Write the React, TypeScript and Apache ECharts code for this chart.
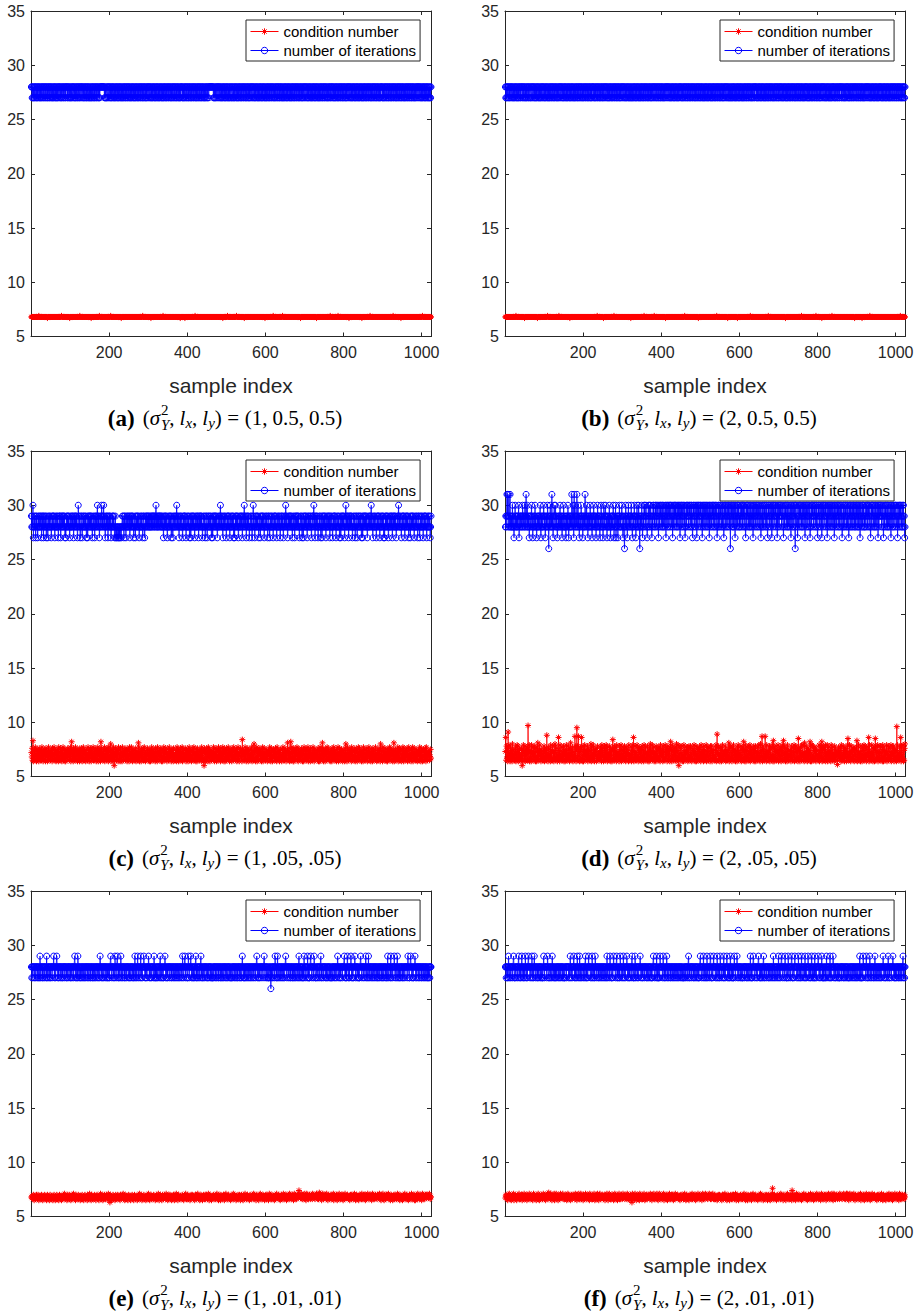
import React, { useEffect, useRef } from 'react';
import * as echarts from 'echarts';

// ---------------- data ----------------
// sample index runs 1..1024 in every panel
// iterations: one char per sample, value = 20 + base36(char)  ('7'=27, '8'=28, '9'=29, 'a'=30, 'b'=31, '6'=26)
// condition number: one char per sample, value = 6.0 + 0.1 * index in ALPHA
const ALPHA = '0123456789abcdefghijklmnopqrstuvwxyzABCDEFGHIJ';

const iterA = [
  '88787878 78878787 87887878 78788787 88787887 87878878 78878787 87887878',
  '78787887 88787878 87878878 78887878 87878787 88788787 87878878 78878788',
  '87887878 78878787 88787878 78787887 87878878 78878787 88888888 88878787',
  '78878878 87878787 88787878 78878787 87887878 78787887 87878878 78878787',
  '87887878 78787887 87878878 78878787 88787878 78878878 87878787 88787878',
  '78878787 87887878 78787887 87878878 78878787 87887878 87878788 78787878',
  '88787878 78878788 78787887 87878878 78878787 87887878 87878788 78787878',
  '87878878 88888888 88787878 78878878 87887878 78788787 87878878 78787887',
  '78878787 87887878 78787887 87878878 78878787 88787878 78878878 87878787',
  '88787878 78878787 87887878 78787887 87878878 78878787 87887878 87878788',
  '78787878 78878787 87887878 78787887 87878878 78878787 88787878 78878878',
  '87878787 88787878 78878787 87887878 78787887 87878878 78878787 87887878',
  '87887878 78787887 87878878 78878787 88787878 78878878 87878787 88787878',
  '78878787 87887878 78787887 87878878 78878787 87887878 87878788 78787878',
  '88787878 78878788 78787887 87878878 78878787 87887878 87878788 78787878',
  '87878878 78878787 88787878 78878878 87887878 78788787 87878878 78787878',
];
const iterB = [
  '87878788 78787887 88787878 78878787 87878878 78887878 87878787 88787887',
  '78878878 87878787 87887878 78787887 88787878 78878787 87878878 78878787',
  '88787878 78878878 87878787 88787878 78878787 87887878 78787887 87878878',
  '78878787 87887878 87878788 78787878 88787878 78878788 78787887 87878878',
  '87887878 78787887 87878878 78878787 88787878 78878878 87878787 88787878',
  '78787878 78878787 87887878 78787887 87878878 78878787 88787878 78878878',
  '87878878 78878787 88787878 78878878 87887878 78788787 87878878 78787887',
  '88787878 78878788 78787887 87878878 78878787 87887878 87878788 78787878',
  '78878787 87887878 78787887 87878878 78878787 88787878 78878878 87878787',
  '87878787 88787878 78878787 87887878 78787887 87878878 78878787 87887878',
  '88787878 78878787 87887878 78787887 87878878 78878787 87887878 87878788',
  '78878787 87887878 78787887 87878878 78878787 87887878 87878788 78787878',
  '87887878 78787887 87878878 78878787 88787878 78878878 87878787 88787878',
  '78787887 88787878 87878878 78887878 87878787 88788787 87878878 78878788',
  '87878878 78878787 88787878 78878878 87887878 78788787 87878878 78787887',
  '88787878 78878787 87887878 78788787 88787887 87878878 78878787 87887878',
];
const iterC = [
  '9898a789 89879898 78989889 89789897 98898978 98789898 89878989 98987898',
  '89898789 98978989 89898978 78989898 98789889 89897898 98989878 a9898789',
  '98789898 89898789 78989898 98987898 89789898 9a898978 8989a898 9a898789',
  '89897898 98987889 89898789 78788787 87878878 89898798 98789898 89897898',
  '98989878 89789898 98987898 89898789 98789898 98989898 89898989 9898989a',
  '89898989 98989898 89789898 98987898 89898978 98789898 8989a898 98789898',
  '89878989 98987898 89898789 78989898 98789889 89897898 98989878 89898789',
  '98789898 89898789 78989898 98987898 8989a898 98789898 89878989 98987898',
  '89898978 78989898 98789889 89897898 9a898978 98989878 89898789 a8987898',
  '98989878 89789898 98987898 89898789 98789898 89878989 98987898 89898789',
  '89898789 898a9898 78989898 98987898 89789898 98989878 89898789 78989898',
  '98789898 89898789 989a8978 98989878 89898789 78989898 98789889 89897898',
  '89878989 98987898 89898789 78989898 98789a89 89897898 98989878 89898789',
  '98789898 89898789 78989898 98987898 898989a8 98789898 89878989 98987898',
  '89898978 78989898 98789889 89897898 98989878 8989a898 89878989 98987898',
  '98989878 89789898 98987898 89898789 98789898 89878989 98987898 89898789',
];
const iterD = [
  '8989b9b8 9b89b898 98a89878 9a898989 89a78989 9898a989 98a89b98 a8989789',
  '989a8978 8989a898 78989898 9a879898 89a98978 9898a986 989a898b 89789a98',
  'a9898789 8989a898 97898a98 89879898 a9789898 98b98a97 b8a9898b 98a89789',
  '89a98978 9898b989 a8978989 8a989879 89a98989 7898a989 98798a98 9878a989',
  'a9897898 98a89789 8989a978 98a78989 7989a898 89a98798 8698a989 789a8989',
  '98a98789 89a98978 9a898a98 69898a97 898a9a89 a98789a8 9a89a987 98a9a898',
  'a9a89a98 7a98a9a8 9a8a98a9 89a7a98a 98a9a89a a89a798a 9a8a9a89 8a9a89a7',
  '9a8a9a89 a98a789a 8a9a98a9 a89a8a97 8a9a89a9 8a79a8a9 a98a9a89 7a8a98a9',
  'a89a8a98 9a7a89a9 8a9a8a98 a9a89a78 9a8a98a9 a89a8a97 8a9a8a98 9a8a9a89',
  '6a9a8a98 a89a7a98 9a8a9a89 8a98a9a8 a9a89a87 9a8a9a89 a89a8a98 9a7a89a9',
  '8a9a8a98 a9a89a78 9a8a98a9 a89a8a97 8a9a89a9 8a79a8a9 a98a9a89 7a8a98a9',
  'a9a89a98 7a98a9a8 9a8a98a9 89a7a98a 98a9a86a a89a798a 9a8a9a89 8a9a89a7',
  '9a8a9a89 a98a789a 8a9a98a9 a89a8a97 8a9a89a9 8a79a8a9 a98a9a89 7a8a98a9',
  'a89a8a98 9a7a89a9 8a9a8a98 a9a89a78 9a8a98a9 a89a8a97 8a9a8a98 9a8a9a89',
  '8a9a8a98 a89a7a98 9a8a9a89 8a98a9a8 a9a89a87 9a8a9a89 a89a8a98 9a7a89a9',
  'a9a89a98 7a98a9a8 9a8a98a9 89a7a98a 98a9a89a a89a798a 9a8a9a89 8a9a8978',
];
const iterE = [
  '87887888 78878887 88788798 78887878 88788879 78878887 87888788 89878878',
  '89887878 88788878 78887888 87878878 88878788 78887889 87887879 88788787',
  '88788788 78878887 88788878 78887878 87887888 78878878 98878878 87888788',
  '87878878 78898878 88788798 87889878 78878987 88788878 78887888 87878878',
  '88788787 89878878 98788878 97887888 98878788 78889878 87887888 87987878',
  '78878887 88978878 87788898 78878788 88788878 78887887 88788788 78878887',
  '88798878 89878887 78987888 98788787 88788978 78878887 88978878 78887888',
  '87878878 88788787 78878887 88788878 78887878 87887888 78878878 88788787',
  '78878887 88788878 78887887 88789887 87878878 88788788 78878887 88788878',
  '89878878 78887888 87889878 88788787 78878687 88788878 98878798 78887887',
  '88788788 78898878 88788878 78887878 87887888 78878978 88788787 87988788',
  '88798787 78898878 88789887 78878878 88788978 78887888 87878878 88788787',
  '78878887 88788878 98878878 78887888 89878787 89887878 88987887 78889878',
  '88788787 78898878 88788878 98788789 78878887 88788788 78887878 87887888',
  '78878878 88788787 98878887 97888788 89878878 89788787 88788878 78887888',
  '88789887 78898878 87788898 78878887 88788878 78887887 88788787 87887888',
];
const iterF = [
  '88788787 98878878 88788987 78878887 88978878 78988787 88798878 78898887',
  '88789878 78988788 87878878 88788787 78987888 88789887 78878878 98788787',
  '87887888 78878878 88788787 78887888 88788798 78878889 87878878 98788798',
  '78878887 88788978 78878988 88788798 78878798 88788878 78887887 88788788',
  '78879878 88789887 78878988 88788978 78878798 88788798 78878889 87887878',
  '88789887 78879878 88788788 89878878 78887888 87878878 88788787 78898878',
  '88798787 78879888 88789878 78878987 88788878 78887887 88788788 78878887',
  '88788787 78878878 88788978 78887888 87878878 88788787 78898878 88798788',
  '78879878 88788987 78878988 88788798 78878798 88788879 78878889 87887878',
  '98788787 78988788 89878878 88788787 78887888 87878878 88798787 78898878',
  '88788788 98878787 88788978 78887888 87878878 88788798 78878887 88798788',
  '78898878 88789887 78879878 88788987 78878988 88788798 78878798 88788879',
  '78878889 87887878 98788787 97887888 89878878 88978787 78878798 88788879',
  '78878889 87887878 88788787 78887888 87878878 88788787 78878887 88788788',
  '78878878 88798787 78879888 88789878 78878987 88788878 78987887 88788788',
  '78878889 87887878 88789878 78887888 98878787 88788878 78887887 88978878',
];

const condA = [
  '88888888 88888888 88898888 88888888 88888888 87888888 88888888 88888888',
  '88888888 88888988 88888888 88888888 88788888 88888888 88888888 88889888',
  '88888888 88888888 88888888 87888888 88888888 88888898 88888888 88888888',
  '88888888 88898888 88888888 88888888 88888878 88888888 88888888 88888888',
  '88888888 88888888 88888888 88888988 88888888 88888888 88788888 88888888',
  '88888888 88888888 89888888 88888888 88888888 88888888 88888888 88888788',
  '88888888 87888888 88888888 88888888 88898888 88888888 88888888 88888888',
  '88888888 88888888 88888888 88888888 88888888 88788888 88888898 88888888',
  '88888888 88888988 88888888 88888888 87888888 88888888 88888888 88888888',
  '88888888 88888888 88888878 88888888 88888888 88898888 88888888 88888888',
  '88898888 88888888 88888888 88888888 88888888 88888888 87888888 88888888',
  '88888888 88888888 88888888 88788888 88888888 88888888 88888888 88888988',
  '88888888 88888888 89888888 88888888 88888888 88888788 88888888 88888888',
  '88888888 88888878 88888888 88888888 88898888 88888888 88888888 88888888',
  '88888888 88888888 88888888 88888898 88888888 88888888 88788888 88888888',
  '88888888 88888888 88888888 88888888 88888888 89888888 88888888 88888888',
];
const condB = [
  '88888888 88888888 88888888 88898888 88888888 88888888 87888888 88888888',
  '88888888 88888888 88788888 88888888 88888888 88889888 88888888 88888888',
  '88888888 89888888 88888888 88888888 88888788 88888888 88888888 88888888',
  '88888888 88888888 88888888 88888888 88888888 88898888 88888888 88878888',
  '88888888 88888888 88888898 88888888 88888888 88888888 88888888 88888888',
  '87888888 88888888 88888888 88888888 88898888 88888888 88888888 88888988',
  '88888888 88888888 88888888 88788888 88888888 88888888 88888888 88888888',
  '88888888 88898888 88888888 88888888 88888888 88888878 88888888 88888888',
  '88888888 88888888 88888888 88888988 88888888 88888888 88888888 87888888',
  '88888888 88888888 88788888 88888888 88888888 88888888 88898888 88888888',
  '88888888 88888888 88888888 88888888 89888888 88888888 88888888 88888888',
  '88888888 88888788 88888888 88888888 88888888 88888888 88888898 88888888',
  '88888888 88888888 88888888 88898888 88888888 88788888 88888888 88888888',
  '88889888 88888888 88888888 88888888 88888888 88888888 88888888 88888878',
  '88888888 88888888 87888888 88888888 88888988 88888888 88888888 88888888',
  '88888888 88888888 88888888 88888888 88888888 88888888 88898888 88888888',
];
const condC = [
  'c8g5n4a7 e6h9b4f5 a7d4g8c5 9e5h7b4d 6f9c4g8a b4e7h5c9 d5a8f4g6 c9h6b5e4',
  'a5f8c4h7 6d9g5b4e 8h5a7f4c 4e9b6g8d f5c7h4am b6e4g8d5 7h5c9f4a e6b4g7d5',
  '9g4d6h5b e7a4f9c5 5h8b4e7g c4f6a9h5 7d5g8b4e a6h4c9f5 d4m6g8b5 8e5h4a7f',
  'b5g7d4h8 6e9k4c7f a4h70c5g 8d5f9b4h e6a4g7c5 4h8d5b9f c5g6a4e8 7f4h9d5b',
  'h6c4f8a5 9e5g4b7d 5al7h4c9 d4f6b8g5 8h5e4a7c 6g9c5f4b e4a7h5d8 b5f9c4g6',
  '7d4h6b9e a5g8c4f7 4e9h5b6d g7c4a8f5 5h6d9b4e c8f4g7a5 9b5e4h6c f4a8d5g7',
  'd5h4b8f6 6c9g4e7a b4f7h5d9 8e4a6g5c h5c8b4f7 4g6d9a5e a7f4h8c5 e50g6b4d',
  '5g8c4h7b f4a9e5d6 c7h5b4g8 9d4f6a5h 6e8c4g7b a5h9d4f6 4c7g5e8a h6b4f9d5',
  'c4g7a5h8 8e5d9f4b 5h6b4c9g f7a4od5e 9c5h8b4f d6g4e7a5 b8f5h4c6 a5kd7g4e',
  '6h4e8b5g d9a5f4c7 h4c7g6b5 5f8d4a9e b6h5c4g8 e4a9f7d5 8g5b4h6c c7e4a8f5',
  'a4f7h5c8 5g9d4b6e l6c8g4a5 mb5h7d4f 4e8c6g9b h5a4f8d6 7c5g9b4e d4h6a8f5',
  'f5b8h4d7 9e4g6a5c 5h7c4f8b c6a9e5g4 8d4h5b7f al6g4c8e 4f9d5h6b g7c5a4e8',
  'b4g6d8h5 e7a5c4f9 6h4b9g5d d5f8a4e7 9c4g5k6b 4h8e5a7f c6f4h9d5 a8e5g4c7',
  '7f4c8h6a g5d9b4e7 a4h6f5c8 5e8g4b9d h7c5a4f6 d4g8e5b7 6h9c4a5f b5e7g4k8',
  'e6a4h8c5 9g5d7b4f 4c8f6h5a g5b9e4d7 l4a8f5c6 c7h4d9g5 5f6b4e8h a4g7c5d9',
  'd8g4b6h5 5e9a4f7c h4c6g8b5 7f5d4a9e b5h7c4g6 e4a8f5d9 6g4h7b5c c9e5a6f7',
];
const condD = [
  'dq5i8g4v 6j9c4h7b e4k7b9f5 a5h4d8j6 i4c7f5a9 5g80e4jb c7i4d9f5 h5Bc6j4e',
  '7e4j6b9h c5i8d4g7 4h7l5c9e j6a4f8b5 8d5i4g7c e5s7a4h9 b8f4j6d5 5i7c4e8k',
  'i5c8g4a7 q6e4j9b5 6h5d8i4c f4a7j5e9 5i8b4g6l c9f5h4a7 d5r8i4gz 7i5r9d4f',
  'h5dq7a4i 4f9j5c8e b6i4g7d5 9e5k4h8a 5j7c4f9d g4a8i5b6 7d5h9e4j c8g4a6i5',
  'e5j7b4h9 6c8i5f4d a4go7e5i 5h9c4j8b d6a4i7f5 j4e8b5g9 7i5d4h6c f9b4j5a7',
  'b6h4e9j5 q4d7i5c8 5j8a4g6e h5c9f4i7 8e4j6b5h c7a5i4d9 4g8k5e6b j5d7h4a8',
  'd4i6b8g5 7h5e4j9c a8f4i5d6 5j7c9g4e i5b8f4hm 6e4j7a5g c9h5d4k7 e5j80b6i',
  'g5c8i4a7 4j6e9b5h d7h4f5i8 a5i7c4g6 6e9j5d4b i4b7g5f9 5h8d4j6a c7f4i5e9',
  'a6j4d8h5 5g9b4i7e i4c6f8a5 7e5j4htb c5i8a4g6 h4e7j5b9 6d9i4f5c e5a8l4h6',
  '5i8c4g6e j5a9f4d7 b4h6j5e8 9c5i4a7g f6m5d4j8 4e7h9b5i d5j4g8c6 a8f5i4e7',
  'i4d7b5h9 6j5c4k8e 8r4i6f5b 5r9d4j7a c7e5i4g6 h5a9j4n7 4g8d6i5c e6j4b9f5',
  '7h4e9j5c n5i8b4g6 d4j6f5a9 a8e4i7c5 5g9j4d6h i5c8f4p7 6e4h9b5j c8j5a4l7',
  'b5i7d4g8 e6c9m4j5 4j8a5h7e h5d4f9b6 9a5j4e7i c8m4g5i6 5f9j4b7d j4c6h8a5',
  'e4j7b5h9 7c4i6f8a c51d9h7e a6h4j5c8 5i9e4g7b g4d8jp5a 8j5c4i6e d7a5h4f9',
  '9e5hn4c7 j5b8d4i6 a4g7e5j9 5i6c4h8b f8q4j5d7 c5j9a4g6 h4ep5i7c 6j4d8b5i',
  'i5c8f4j6 4h7e9b5d j4a6i5g8 7d5j4c9h b6i4f8e5 e4A7j5c9 5h8cq4i6 a7j4e5gk',
];
const condE = [
  '87986a75 98769a86 7a859768 96a87598 68a97865 9a768958 a7869785 69a87596',
  '8a769857 a8967598 67a98b68 97856a97 8a698576 9a78b968 75a89678 a6978596',
  '98a76859 7a869785 a9678b96 85a97687 69a87598 a7968579 8b697a85 967a8968',
  'a8697b68 93a78597 8a697856 a9867a98 7695a878 9a8b6795 a6879685 7a968957',
  '89a76958 a7869785 96a87b68 7a958697 a8697586 9a78b965 78a96879 6a987586',
  '9a876b95 87a96857 a9687a98 6b978586 a97a8695 8697a958 a86b9775 9a867896',
  '78a96857 9a8b7696 a8697859 6a98a786 9857a968 a7b96985 86a97857 9a869a68',
  'a9768b95 8a967578 97a86996 8a7b9685 a9685a97 7968a958 a8b97686 9a876958',
  '86a97b68 a9785968 7a968a95 98a76858 a96b8796 8a978659 a78969a8 6b9a8775',
  '9a867958 a7b96896 8a978569 a96a8785 7b98a696 a8769858 96a8b977 8a968596',
  'a8796b86 9a87a596 79a86b98 a6978a95 8b96a786 9a87ae98 a79b8696 8a97b685',
  '9b8a7698 a8697a86 b9a87968 a8b97686 9cab8795 a9b86a97 8a96b785 a978698a',
  '96a87b58 a9786a95 8a96b786 7a98a658 a96b8797 8a978695 9a86a978 6a9b8756',
  'a8796958 9a87a6b6 78a96a85 a9687b98 6a978a95 8b96a796 9a8786a8 a79b8695',
  '8a97b685 9a867a98 a7b96895 8a978569 a96a8786 7b98a695 a8769858 96a8b976',
  '8a968596 a8796b86 9a87a595 79a86b98 a6978a95 8b96a786 9a8a7a98 a79b8688',
];
const condF = [
  '79a86958 a8b97685 96a87b59 8a968597 a79b6886 9a85a796 b8697a85 a9687b96',
  '8a976859 b9a86795 7a98b685 a8697a96 9b8a6785 a978b69c 8a96b785 97a86b59',
  'a8b96875 9a867b98 a79b6896 8a97a586 b9a86795 7a968a98 a86b9785 9a87b696',
  '8b96a785 a9687b96 9a87a695 b8a96786 a97b8596 8a96b785 9ab86978 a7968a95',
  '9a86b785 a8b97696 8a97a586 b9a86795 a79b6896 9a867b98 a8697a86 b9a86795',
  'a7983b96 8a96b785 9a87a695 b8a96786 a97b8596 7a968a98 a86b9785 9a87b696',
  '8a97b685 a9b86a97 96a87b58 a9786a95 8a96b786 7a98a658 a96b8797 8a978695',
  '9a86a978 6a9b8756 a8796958 9a87a6b6 78a96a85 a9687b98 6a978a95 8b96a796',
  'b9a87968 a8b97686 9a8b7696 a8697859 6a98a786 9857a968 a7b96985 86a97857',
  '9a869a68 a9768b95 8a967578 97a86996 8a7b9685 a9685a97 7968a958 a8b97686',
  '9a876958 86a97b68 a9785968 7a968a95 98a76858 a96bg796 8a978659 a78969a8',
  '6b9a8775 9a867958 a7b96896 8a9785e9 a96a8785 7b98a696 a8769858 96a8b977',
  '8a968596 a8796b86 9a87a596 79a86b98 a6978a95 8b96a786 9a87a598 a79b8696',
  '8a97b685 9b8a7698 a8697a86 b9a87968 a8b97686 9bab8795 a9b86a97 8a96b785',
  'a978698a 96a87b58 a9786a95 8a96b786 7a98a658 a96b8797 8a978695 9a86a978',
  '6a9b8756 a8796958 9a87a6b6 78a96a85 a9687b98 6a978a95 8b96a796 9a8786a8',
];

const panelLetters = ['a', 'b', 'c', 'd', 'e', 'f'];
const sigma2 = ['1', '2', '1', '2', '1', '2'];
const lengthScales = ['0.5', '0.5', '.05', '.05', '.01', '.01'];
const xTicks = [200, 400, 600, 800, 1000];
const yTicks = [5, 10, 15, 20, 25, 30, 35];
const seriesNames = ['condition number', 'number of iterations'];

// ---------------- helpers ----------------
const clean = (lines: string[]) => lines.join('').replace(/\s/g, '').slice(0, 1024);
const decodeIter = (lines: string[]) => clean(lines).split('').map((c) => 20 + parseInt(c, 36));
const decodeCond = (lines: string[]) =>
  clean(lines).split('').map((c) => Math.round((6 + ALPHA.indexOf(c) * 0.1) * 100) / 100);

const SANS = '"Liberation Sans", Arial, Helvetica, sans-serif';
const SERIF = '"Liberation Serif", "DejaVu Serif", serif';
const AX = '#262626';
const STAR = 'path://M0 5L10 5M5 0L5 10M1.6 1.6L8.4 8.4M8.4 1.6L1.6 8.4';

function captionElements(letter: string, vals: string[], cx: number, cy: number) {
  const ctx = document.createElement('canvas').getContext('2d') as CanvasRenderingContext2D;
  const F = 21;
  const S = 15;
  const reg = `${F}px ${SERIF}`;
  const bold = `bold 23px ${SERIF}`;
  const ital = `italic ${F}px ${SERIF}`;
  const small = `${S}px ${SERIF}`;
  const smallI = `italic ${S}px ${SERIF}`;
  const w = (t: string, f: string) => {
    ctx.font = f;
    return ctx.measureText(t).width;
  };
  const items: { t: string; f: string; x: number; dy: number }[] = [];
  let x = 0;
  const put = (t: string, f: string, dy = 0) => {
    items.push({ t, f, x, dy });
    x += w(t, f);
  };
  const gap = (g: number) => {
    x += g;
  };
  put(`(${letter})`, bold);
  gap(8);
  put('(', reg);
  put('σ', ital);
  gap(1);
  const x0 = x;
  items.push({ t: '2', f: small, x: x0, dy: -8 });
  items.push({ t: 'Y', f: smallI, x: x0, dy: 7 });
  x = x0 + Math.max(w('2', small), w('Y', smallI));
  put(',', reg);
  gap(5);
  put('l', ital);
  put('x', smallI, 5);
  put(',', reg);
  gap(5);
  put('l', ital);
  put('y', smallI, 5);
  put(')', reg);
  gap(5.5);
  put('=', reg);
  gap(5.5);
  put('(', reg);
  put(vals[0], reg);
  put(',', reg);
  gap(5);
  put(vals[1], reg);
  put(',', reg);
  gap(5);
  put(vals[2], reg);
  put(')', reg);
  const left = cx - x / 2;
  return items.map((it) => ({
    type: 'text',
    x: left + it.x,
    y: cy + it.dy,
    silent: true,
    style: {
      text: it.t,
      font: it.f,
      fill: '#000',
      align: 'left',
      verticalAlign: 'middle',
      textAlign: 'left',
      textVerticalAlign: 'middle',
    },
  }));
}

function buildOption() {
  const iters = [iterA, iterB, iterC, iterD, iterE, iterF].map(decodeIter);
  const conds = [condA, condB, condC, condD, condE, condF].map(decodeCond);

  const grid: any[] = [];
  const xAxis: any[] = [];
  const yAxis: any[] = [];
  const series: any[] = [];
  const legend: any[] = [];
  let graphics: any[] = [];

  for (let i = 0; i < 6; i++) {
    const col = i % 2;
    const row = Math.floor(i / 2);
    const left = 31 + col * 474;
    const top = 11 + row * 440;
    const width = 400;
    const height = 325.5;
    grid.push({ left, top, width, height, containLabel: false, outerBoundsMode: 'none' });

    const axisLine = { show: true, onZero: false, lineStyle: { color: AX, width: 1 } };
    const axisTick = { show: true, inside: true, length: 4, lineStyle: { color: AX, width: 1 } };
    xAxis.push({
      type: 'value',
      gridIndex: i,
      position: 'bottom',
      min: 0,
      max: 1024,
      interval: 200,
      axisLine,
      axisTick,
      splitLine: { show: false },
      axisLabel: {
        color: AX,
        fontSize: 16,
        fontFamily: SANS,
        margin: 8,
        formatter: (v: number) => (xTicks.indexOf(v) >= 0 ? String(v) : ''),
      },
      name: 'sample index',
      nameLocation: 'middle',
      nameGap: 38,
      nameTextStyle: { fontSize: 21, color: AX, fontFamily: SANS },
    });
    xAxis.push({
      type: 'value',
      gridIndex: i,
      position: 'top',
      min: 0,
      max: 1024,
      interval: 200,
      axisLine,
      axisTick,
      splitLine: { show: false },
      axisLabel: { show: false },
    });
    yAxis.push({
      type: 'value',
      gridIndex: i,
      position: 'left',
      min: 5,
      max: 35,
      interval: 5,
      axisLine,
      axisTick,
      splitLine: { show: false },
      axisLabel: {
        color: AX,
        fontSize: 16,
        fontFamily: SANS,
        margin: 6,
        formatter: (v: number) => (yTicks.indexOf(v) >= 0 ? String(v) : ''),
      },
    });
    yAxis.push({
      type: 'value',
      gridIndex: i,
      position: 'right',
      min: 5,
      max: 35,
      interval: 5,
      axisLine,
      axisTick,
      splitLine: { show: false },
      axisLabel: { show: false },
    });

    series.push({
      type: 'line',
      name: seriesNames[0],
      xAxisIndex: 2 * i,
      yAxisIndex: 2 * i,
      data: conds[i].map((v, k) => [k + 1, v]),
      symbol: STAR,
      symbolSize: 6,
      showAllSymbol: true,
      clip: false,
      silent: true,
      lineStyle: { color: '#ff0000', width: 0.8 },
      itemStyle: { color: '#ff0000', borderColor: '#ff0000', borderWidth: 1 },
      emphasis: { disabled: true },
    });
    series.push({
      type: 'line',
      name: seriesNames[1],
      xAxisIndex: 2 * i,
      yAxisIndex: 2 * i,
      data: iters[i].map((v, k) => [k + 1, v]),
      symbol: 'circle',
      symbolSize: 6,
      showAllSymbol: true,
      clip: false,
      silent: true,
      lineStyle: { color: '#0000ff', width: 0.8 },
      itemStyle: { color: 'rgba(0,0,0,0)', borderColor: '#0000ff', borderWidth: 1 },
      emphasis: { disabled: true },
    });

    legend.push({
      show: true,
      orient: 'vertical',
      left: left + 215,
      top: top + 9,
      itemWidth: 28,
      itemHeight: 8,
      itemGap: 4,
      padding: [4, 4, 3, 4],
      borderColor: AX,
      borderWidth: 1,
      borderRadius: 0,
      backgroundColor: '#ffffff',
      selectedMode: false,
      data: seriesNames,
      itemStyle: { borderWidth: 1 },
      lineStyle: { width: 1 },
      textStyle: { fontSize: 15, fontFamily: SANS, color: '#000' },
    });

    graphics = graphics.concat(
      captionElements(panelLetters[i], [sigma2[i], lengthScales[i], lengthScales[i]], left + width / 2 - 6, 418 + row * 440)
    );
  }

  return {
    animation: false,
    backgroundColor: '#ffffff',
    grid,
    xAxis,
    yAxis,
    legend,
    series,
    graphic: { elements: graphics },
  };
}

export default function App() {
  const ref = useRef<HTMLDivElement>(null);
  useEffect(() => {
    if (!ref.current) return;
    const chart = echarts.init(ref.current, undefined, { renderer: 'svg' });
    chart.setOption(buildOption() as any);
    return () => chart.dispose();
  }, []);
  return (
    <div
      ref={ref}
      style={{ position: 'absolute', left: 0, top: 0, width: 922, height: 1314, background: '#fff' }}
    />
  );
}
